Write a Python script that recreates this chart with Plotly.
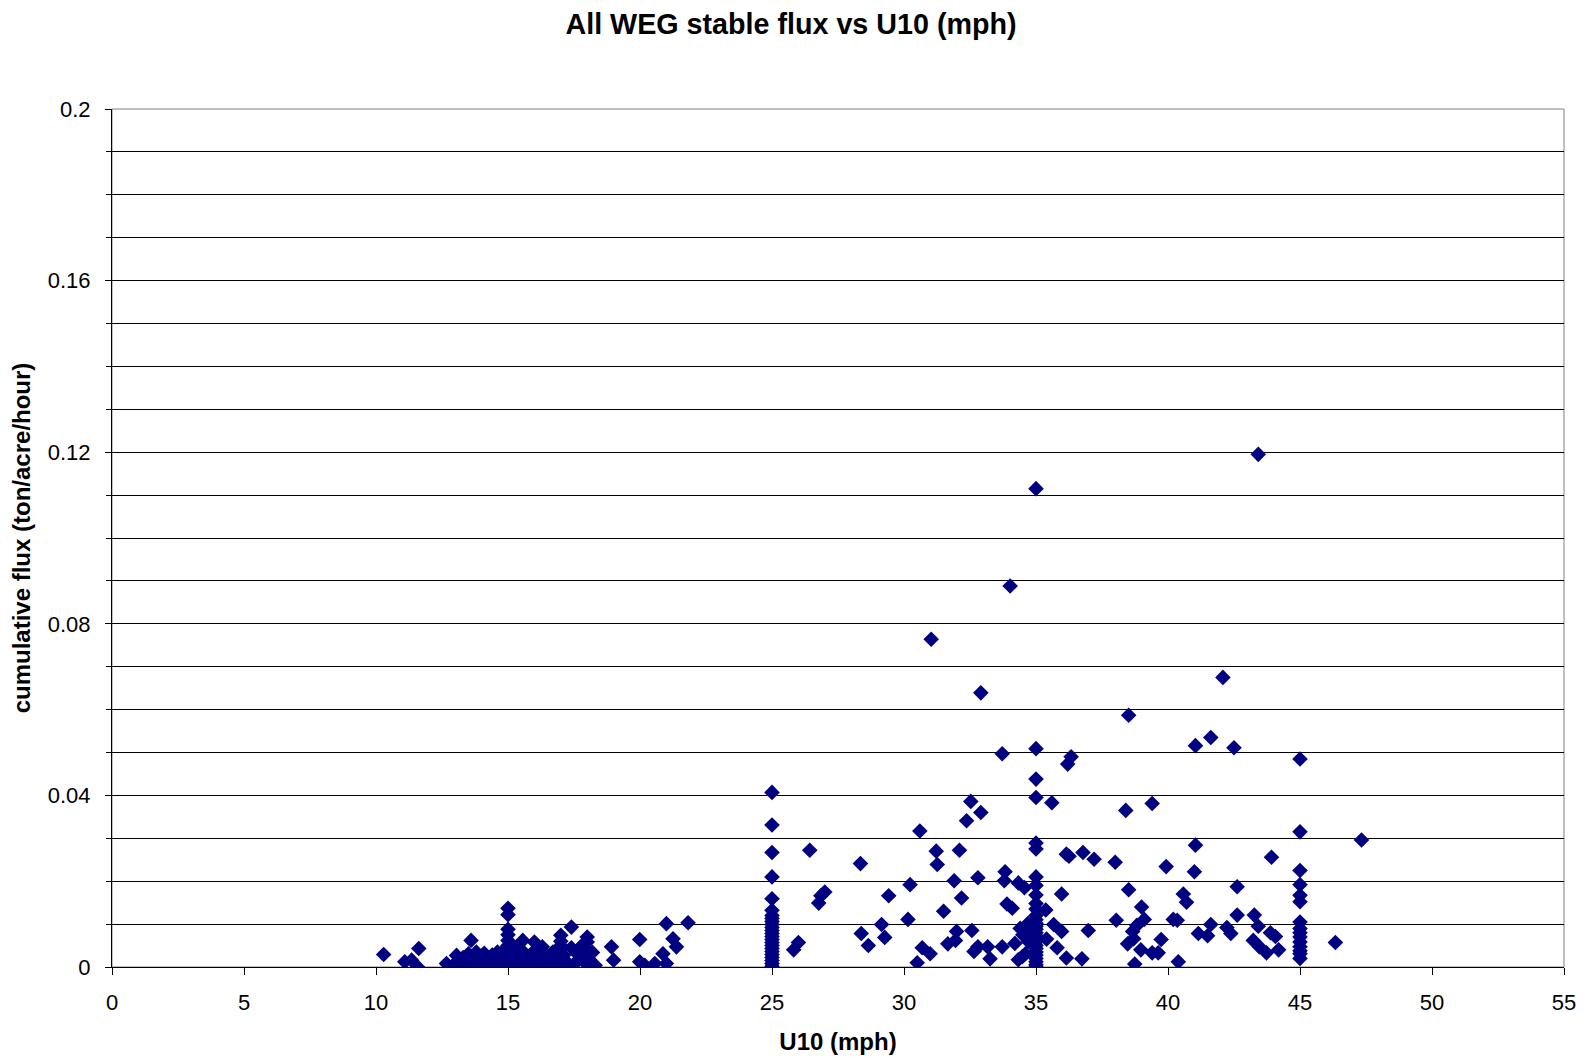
import plotly.graph_objects as go

# Low-speed cluster (10-22 mph)
low_u10 = [10.29, 11.09, 11.35, 11.58, 11.62, 12.67, 13.05, 13.0, 13.1, 13.2, 13.3, 13.4, 13.5, 13.6, 13.6, 13.7,
           13.8, 13.9, 14.0, 14.0, 14.1, 14.2, 14.3, 14.4, 14.5, 14.5, 14.6, 14.7, 14.8, 14.9, 14.9,
           15, 15, 15, 15, 15, 15, 15, 15, 15, 15, 15,
           15.1, 15.2, 15.3, 15.4, 15.5, 15.56, 15.6, 15.7, 15.8, 15.9, 16.0, 16.0, 16.0,
           16.1, 16.2, 16.3, 16.4, 16.5, 16.6, 16.7, 16.8, 16.9,
           17, 17, 17, 17, 17, 17, 17, 17,
           17.1, 17.2, 17.4, 17.4, 17.5, 17.6, 17.7, 17.8, 17.9,
           18.0, 18.0, 18.0, 18.0, 18.0, 18.1, 18.2, 18.3,
           18.92, 19.0, 19.99, 19.99, 20.18, 20.56, 20.87, 21.0, 21.0, 21.25, 21.38, 21.82]
low_flux = [0.0029, 0.0012, 0.0016, 0.0, 0.0043, 0.0008, 0.0027, 0.0005, 0.0015, 0.0002, 0.0022, 0.001, 0.0031, 0.0062, 0.0008, 0.0018,
            0.0035, 0.0003, 0.0025, 0.0012, 0.0032, 0.0006, 0.002, 0.0028, 0.0001, 0.0015, 0.0035, 0.0009, 0.0024, 0.0004, 0.0042,
            0.0137, 0.0122, 0.0088, 0.0075, 0.0062, 0.005, 0.004, 0.003, 0.002, 0.001, 0.0002,
            0.0028, 0.0011, 0.0045, 0.0019, 0.0003, 0.0062, 0.0034, 0.0013, 0.0025, 0.0007, 0.0058, 0.0038, 0.0016,
            0.0002, 0.003, 0.0047, 0.0012, 0.0024, 0.0005, 0.0035, 0.0018, 0.0009,
            0.0074, 0.006, 0.005, 0.004, 0.003, 0.002, 0.001, 0.0003,
            0.0027, 0.0013, 0.0093, 0.0045, 0.0006, 0.0032, 0.0019, 0.005, 0.0011,
            0.007, 0.0058, 0.004, 0.0025, 0.0008, 0.0016, 0.0034, 0.0004,
            0.0047, 0.0016, 0.0064, 0.0012, 0.0004, 0.0008, 0.0031, 0.0008, 0.0101, 0.0066, 0.0047, 0.0103]

# Stacked readings at 25, 35 and 45 mph
col25_flux = [0.0407, 0.0331, 0.0267, 0.021, 0.0159, 0.0132, 0.012, 0.0113, 0.0106, 0.0099, 0.0092, 0.0085,
              0.0078, 0.0071, 0.0064, 0.0057, 0.005, 0.0043, 0.0036, 0.0029, 0.0022, 0.0015, 0.0008, 0.0002]
col35_flux = [0.1115, 0.0509, 0.0438, 0.0395, 0.0289, 0.0275, 0.021, 0.019, 0.0168, 0.0148, 0.0135, 0.012, 0.011,
              0.0102, 0.0095, 0.0088, 0.008, 0.0073, 0.0065, 0.0058, 0.005, 0.0043, 0.0035, 0.0028, 0.002, 0.0012,
              0.0005, 0.0]
col45_flux = [0.0485, 0.0315, 0.0225, 0.0192, 0.0167, 0.0152, 0.0105, 0.009, 0.008, 0.007, 0.0058, 0.0047,
              0.0038, 0.0031, 0.002]

# Scattered readings (25-48 mph)
mid_u10 = [43.42, 34.02, 31.03, 42.08, 32.91, 38.51, 41.62, 41.04, 42.5, 33.72, 36.33, 36.2, 32.53, 35.6, 39.4,
           38.4, 32.91, 32.37, 30.6, 47.33, 26.43, 31.22, 32.1, 36.78, 36.15, 36.25, 41.04, 43.92, 37.2, 28.35,
           38.0, 31.26, 39.93, 33.83, 41.0, 32.8, 31.9, 33.8, 34.33, 30.23, 34.56, 42.62, 38.51, 27.0, 35.97,
           40.58, 29.42, 26.85, 32.18, 40.7, 33.9, 26.77, 34.1, 39.0, 31.5, 35.37, 43.27, 42.62, 40.2, 38.04,
           30.15, 40.35, 39.1, 34.7, 35.67, 29.15, 38.82, 41.62, 43.42, 32.57, 34.4, 36.98, 35.97, 28.38, 29.27,
           31.99, 41.5, 42.38, 43.88, 44.07, 41.15, 31.95, 38.7, 38.66, 42.23, 34.86, 46.34, 26.0, 31.66, 38.47,
           39.74, 43.23, 28.65, 32.8, 33.72, 43.46, 25.82, 30.69, 32.65, 33.17, 38.97, 39.4, 39.63, 43.73, 44.19,
           30.99, 34.6, 33.26, 34.33, 36.15, 36.74, 34.48, 30.5, 38.74, 40.39, 34.2, 34.5, 35.4, 35.8, 34.7]
mid_flux = [0.1195, 0.0888, 0.0764, 0.0675, 0.0639, 0.0587, 0.0535, 0.0516, 0.0511, 0.0497, 0.049, 0.0473, 0.0386,
            0.0383, 0.0381, 0.0365, 0.036, 0.0341, 0.0317, 0.0296, 0.0272, 0.027, 0.0272, 0.0267, 0.0263, 0.0258,
            0.0284, 0.0256, 0.0251, 0.0241, 0.0244, 0.0239, 0.0234, 0.0222, 0.0222, 0.0208, 0.0201, 0.0201, 0.0196,
            0.0192, 0.0185, 0.0187, 0.018, 0.0175, 0.017, 0.017, 0.0166, 0.0166, 0.0161, 0.0151, 0.0147, 0.0149,
            0.0137, 0.014, 0.013, 0.0133, 0.0121, 0.0121, 0.0111, 0.0109, 0.0111, 0.0109, 0.0111, 0.0102, 0.0099,
            0.0099, 0.0097, 0.0099, 0.0095, 0.0085, 0.009, 0.0085, 0.0083, 0.0078, 0.0069, 0.0083, 0.0073, 0.0078,
            0.008, 0.0071, 0.0078, 0.0062, 0.0066, 0.0083, 0.0092, 0.0085, 0.0057, 0.0057, 0.0054, 0.0054, 0.0064,
            0.0062, 0.005, 0.0047, 0.0047, 0.0047, 0.004, 0.0045, 0.0036, 0.0047, 0.004, 0.0033, 0.0033, 0.0033,
            0.004, 0.0031, 0.0031, 0.0019, 0.0017, 0.0021, 0.0019, 0.0024, 0.001, 0.0007, 0.0012, 0.0055, 0.0075,
            0.0065, 0.0045, 0.006]

x_ticks = [0, 5, 10, 15, 20, 25, 30, 35, 40, 45, 50, 55]

u10 = low_u10 + [25] * len(col25_flux) + [35] * len(col35_flux) + [45] * len(col45_flux) + mid_u10
flux = low_flux + col25_flux + col35_flux + col45_flux + mid_flux

font = "Liberation Sans, Arial, sans-serif"
fig = go.Figure(go.Scatter(
    x=u10, y=flux, mode="markers",
    marker=dict(symbol="diamond", size=12, color="#000080", line=dict(width=0)),
    hoverinfo="x+y", showlegend=False))

fig.update_layout(
    width=1587, height=1059,
    paper_bgcolor="white", plot_bgcolor="white",
    margin=dict(l=104, r=31, t=101, b=100),
    font=dict(family=font, size=22, color="black"),
    title=dict(text="<b>All WEG stable flux vs U10 (mph)</b>", x=783 / 1587, xanchor="center",
               xref="container",
               y=1 - 16 / 1059, yanchor="middle", font=dict(size=28.7, family=font)),
    shapes=[dict(type="rect", xref="paper", yref="paper", x0=0, x1=1, y0=0, y1=1,
                 line=dict(color="#808080", width=1), layer="below")],
)
fig.update_xaxes(
    range=[0, 55], tickvals=x_ticks, showgrid=False, zeroline=False, automargin=False,
    showline=True, linecolor="black", linewidth=1,
    ticks="outside", ticklen=7, tickcolor="black", ticklabelstandoff=9,
    title=dict(text="<b>U10 (mph)</b>", font=dict(size=24, family=font), standoff=18),
)
fig.update_yaxes(
    range=[0, 0.2], dtick=0.04, tick0=0, zeroline=False, automargin=False,
    showline=True, linecolor="black", linewidth=1,
    ticks="outside", ticklen=6, tickcolor="black", ticklabelstandoff=10,
    showgrid=True, gridcolor="black", gridwidth=1,
    minor=dict(dtick=0.01, tick0=0, ticks="outside", ticklen=5, tickcolor="black",
               showgrid=True, gridcolor="black", gridwidth=1),
    title=dict(text="<b>cumulative flux (ton/acre/hour)</b>", font=dict(size=24, family=font), standoff=12),
)

fig.write_html("out.html")
